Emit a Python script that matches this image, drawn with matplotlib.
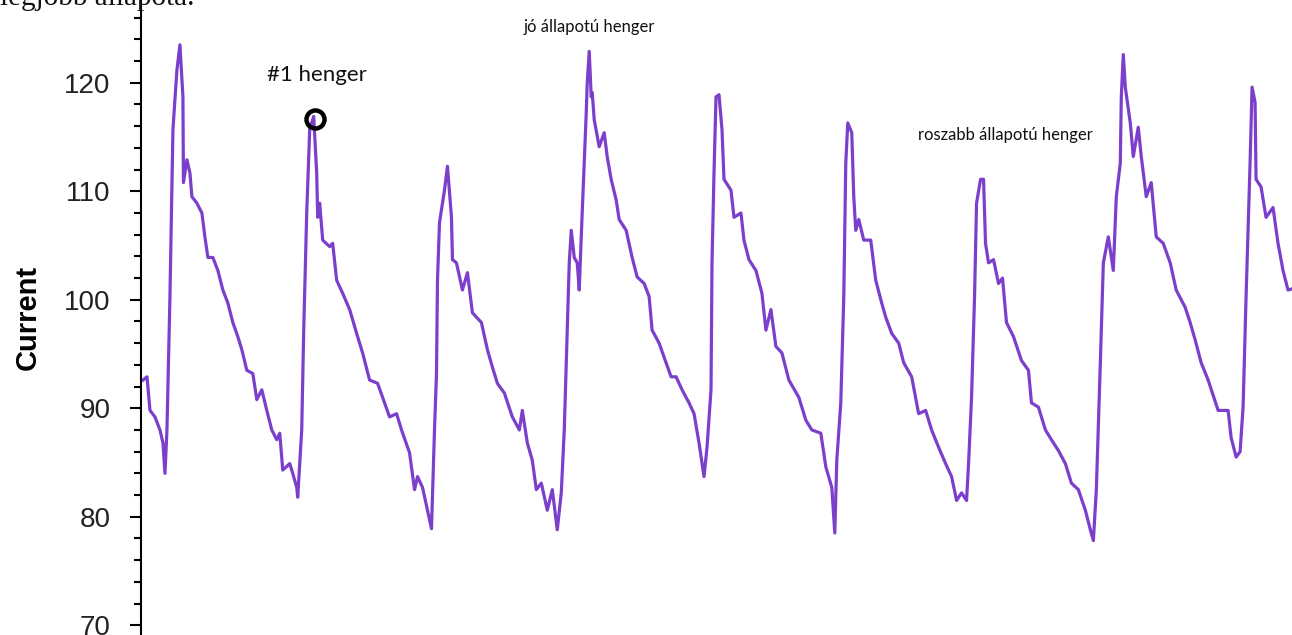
import matplotlib.pyplot as plt
from matplotlib.ticker import MultipleLocator

# sample positions and current values
t = [0, 4, 7, 12, 17, 20, 22, 24, 27, 30, 34, 37, 40, 40.5, 44, 47, 49, 54, 59, 62,
     65, 70, 75, 80, 85, 90, 95, 99, 104, 110, 114, 119, 124, 129, 134, 137, 140, 147,
     150, 154, 155, 159, 161, 164, 167, 171, 174, 175, 177, 180, 187,
     190, 194, 200, 207, 214, 220, 227, 235, 240, 247, 254, 259, 267, 272, 275, 280,
     285, 289, 292, 294, 295, 297, 302, 305, 309, 310, 314, 320, 325, 330, 339, 345,
     350, 355, 362, 370, 377, 380, 385, 390, 394, 399, 405, 410, 415, 419, 422, 425,
     427, 429, 432, 435, 437, 439, 442, 444, 445, 447, 449, 450, 452, 457, 462, 465,
     469, 474, 477, 484, 490, 495, 502, 507, 510, 517, 524, 529, 534, 540, 547, 552,
     557, 562, 565, 569, 570, 572, 574, 577, 580, 582, 589, 592, 599, 602, 607, 614,
     620, 624, 629, 634, 640, 647, 657, 664, 670, 679, 684, 690, 693, 695, 699, 702,
     704, 706, 710, 712, 714, 717, 722, 729, 734, 740, 744, 750, 757, 762, 770, 777,
     784, 790, 797, 804, 810, 815, 820, 825, 827, 830, 833, 835, 839, 842, 844, 847,
     852, 857, 861, 865, 872, 880, 887, 890, 897, 904, 910, 917, 924, 930, 937, 944,
     949, 952, 955, 959, 962, 967, 972, 975, 979, 980, 982, 984, 989, 992, 997, 1000,
     1005, 1010, 1015, 1022, 1029, 1035, 1044, 1049, 1054, 1060, 1067, 1077, 1087,
     1090, 1095, 1099, 1102, 1105, 1109, 1111, 1114, 1115, 1120, 1125, 1132, 1137,
     1142, 1147, 1151]
current = [92.6, 92.9, 89.8, 89.2, 88, 86.8, 84, 88, 100.3, 115.7, 121.2, 123.5, 118.7,
           110.8, 112.9, 111.7, 109.5, 108.9, 108, 105.8, 103.9, 103.9, 102.7, 100.9,
           99.7, 97.9, 96.6, 95.4, 93.5, 93.2, 90.8, 91.7, 89.8, 88, 87.1, 87.7, 84.3,
           84.9, 84, 82.7, 81.8, 88, 97.2, 108, 115.7, 116.9, 111.7, 107.6, 108.9, 105.5,
           104.9,
           105.2, 101.8, 100.6, 99.1, 96.9, 95.1, 92.6, 92.3, 91, 89.2, 89.5, 88, 85.9,
           82.5, 83.7, 82.7, 80.6, 78.9, 88, 93.2, 101.8, 107.1, 110.1, 112.3, 107.6,
           103.7, 103.4, 100.9, 102.5, 98.8, 97.9, 95.4, 93.8, 92.3, 91.4, 89.2, 88,
           89.8, 86.8, 85.2, 82.5, 83.1, 80.6, 82.5, 78.8, 82.2, 88, 97.2, 103.4, 106.4,
           103.9, 103.4, 100.9, 105.8, 112.6, 117.2, 120, 122.9, 118.7, 119.1, 116.6,
           114.1, 115.4, 113.2, 111.1, 109.2, 107.4, 106.4, 103.9, 102.1, 101.5, 100.3,
           97.2, 96, 94.2, 92.9, 92.9, 91.7, 90.5, 89.5, 86.8, 83.7, 86.4, 91.7, 103.4,
           111.7, 118.7, 118.9, 115.7, 111.1, 110.1, 107.6, 108, 105.5, 103.7, 102.7,
           100.6, 97.2, 99.1, 95.7, 95.1, 92.6, 91, 88.9, 88, 87.7, 84.6, 82.7, 78.5,
           85.2, 90.5, 100.3, 112.6, 116.3, 115.4, 109.5, 106.4, 107.4, 105.5, 105.5,
           101.8, 99.7, 98.4, 96.9, 96, 94.2, 92.9, 89.5, 89.8, 88, 86.4, 84.9, 83.7,
           81.5, 82.2, 81.5, 84.9, 91, 100.3, 108.9, 111.1, 111.1, 105.2, 103.4, 103.7,
           101.5, 102, 97.9, 96.6, 94.4, 93.5, 90.5, 90.1, 88, 87.1, 86.1, 84.9, 83.1,
           82.5, 80.6, 78.8, 77.8, 82.5, 94.2, 103.4, 105.8, 102.7, 109.5, 112.6, 118.7,
           122.6, 119.6, 116.3, 113.2, 115.9, 113.2, 109.5, 110.8, 105.8, 105.2, 103.4,
           100.9, 99.3, 97.9, 96.3, 94.2, 92.6, 89.8, 89.8, 87.3, 85.5, 86, 90.1, 100.3,
           112.6, 119.6, 118.2, 111.1, 110.4, 107.6, 108.5, 105.2, 102.7, 100.9, 101]

# marked point and annotation labels
mark_t, mark_val = 172, 116.7
labels = ["#1 henger", "jó állapotú henger", "roszabb állapotú henger"]
label_t = [174, 447, 864]
label_val = [120.7, 125.1, 115.2]
label_size = [16, 12, 12]

fig = plt.figure(figsize=(12.92, 6.35), dpi=100)
ax = fig.add_axes([141 / 1292, 0, 1151 / 1292, 1])

ax.plot(t, current, color='#7b3fcc', linewidth=2.3)
ax.plot(mark_t, mark_val, 'o', markersize=13, markerfacecolor='none',
        markeredgecolor='black', markeredgewidth=3.2)

for txt, x, y, s in zip(labels, label_t, label_val, label_size):
    ax.text(x, y, txt, fontsize=s, family='Lato', ha='center', va='center', color='#111111')

ax.set_xlim(-2, 1151)
ax.set_ylim(69.1, 127.63)
ax.yaxis.set_major_locator(MultipleLocator(10))
ax.yaxis.set_minor_locator(MultipleLocator(2))
ax.tick_params(axis='y', which='major', length=8, width=1.5, pad=14,
               labelsize=20, labelcolor='#222222')
ax.tick_params(axis='y', which='minor', length=5, width=1.5)
ax.set_xticks([])
for side in ['top', 'right', 'bottom']:
    ax.spines[side].set_visible(False)
ax.spines['left'].set_linewidth(1.5)
for lab in ax.get_yticklabels():
    lab.set_family('Liberation Sans')

ax.set_ylabel('Current', fontsize=21, fontweight='bold', family='Liberation Sans', labelpad=16)

fig.text(0.0, 630 / 635, 'legjobb állapota.', fontsize=21, family='Liberation Serif',
         ha='left', va='baseline', color='#111111')

fig.savefig('out.png', dpi=100)
